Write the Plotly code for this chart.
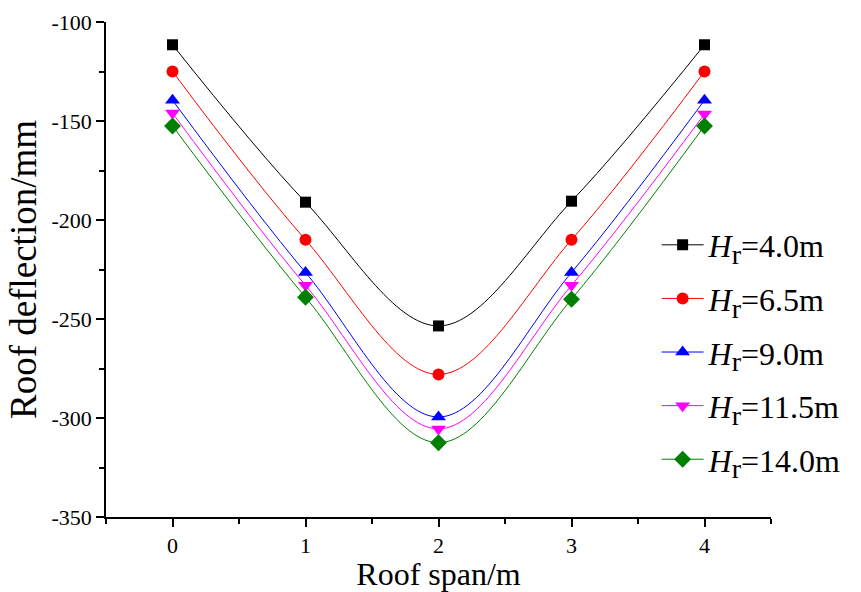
import plotly.graph_objects as go

span = [0, 1, 2, 3, 4]
hr_labels = ["4.0", "6.5", "9.0", "11.5", "14.0"]
hr_4_0 = [-111.5, -191, -253.5, -190.5, -111.5]
hr_6_5 = [-125, -210, -278, -210, -125]
hr_9_0 = [-139.5, -226.5, -299.5, -226.5, -139.5]
hr_11_5 = [-146, -233, -305.5, -233, -146.5]
hr_14_0 = [-152.5, -239, -312.5, -240, -152.5]
y_ticks = [-350, -300, -250, -200, -150, -100]
x_ticks = [0, 1, 2, 3, 4]

series = [hr_4_0, hr_6_5, hr_9_0, hr_11_5, hr_14_0]
colors = ["#000000", "#ff0000", "#0000ff", "#ff00ff", "#008000"]
symbols = ["square", "circle", "triangle-up", "triangle-down", "diamond"]
sizes = [11, 12, 13, 13, 13]

font_family = "Liberation Serif, Times New Roman, serif"

fig = go.Figure()
for i, (vals, lab) in enumerate(zip(series, hr_labels)):
    fig.add_trace(go.Scatter(
        x=span, y=vals, mode="lines+markers",
        name=f"<i>H</i><sub><span style='font-size:28px'>r</span></sub>={lab}m",
        legendgroup=f"g{i}",
        line=dict(color=colors[i], width=1, shape="spline", smoothing=1.0),
        marker=dict(symbol=symbols[i], size=sizes[i], color=colors[i],
                    line=dict(width=0)),
    ))

fig.update_layout(
    width=861, height=592,
    margin=dict(l=106, r=90, t=22, b=75),
    paper_bgcolor="white", plot_bgcolor="white",
    font=dict(family=font_family, color="black"),
    showlegend=True,
    legend=dict(x=0.828, y=0.605, xanchor="left", yanchor="top",
                font=dict(family=font_family, size=32, color="black"),
                bgcolor="rgba(0,0,0,0)", tracegroupgap=9,
                itemwidth=42),
    xaxis=dict(
        range=[-0.5, 4.5], tickvals=x_ticks,
        ticktext=[str(v) for v in x_ticks],
        showline=True, linecolor="black", linewidth=1.5,
        ticks="outside", ticklen=8, tickwidth=1.5, tickcolor="black",
        minor=dict(dtick=0.5, tick0=0, ticks="outside", ticklen=5,
                   tickwidth=1.5, tickcolor="black"),
        showgrid=False, zeroline=False, automargin=False,
        tickfont=dict(family=font_family, size=22),
        title=dict(text="Roof span/m", font=dict(family=font_family, size=32),
                   standoff=11),
    ),
    yaxis=dict(
        range=[-350, -100], tickvals=y_ticks,
        ticktext=[str(v) for v in y_ticks],
        showline=True, linecolor="black", linewidth=1.5,
        ticks="outside", ticklen=8, tickwidth=1.5, tickcolor="black",
        minor=dict(dtick=25, tick0=-350, ticks="outside", ticklen=5,
                   tickwidth=1.5, tickcolor="black"),
        showgrid=False, zeroline=False, automargin=False,
        tickfont=dict(family=font_family, size=22),
        title=dict(text="Roof deflection/mm",
                   font=dict(family=font_family, size=37), standoff=4),
    ),
)

fig.write_html("out.html")
